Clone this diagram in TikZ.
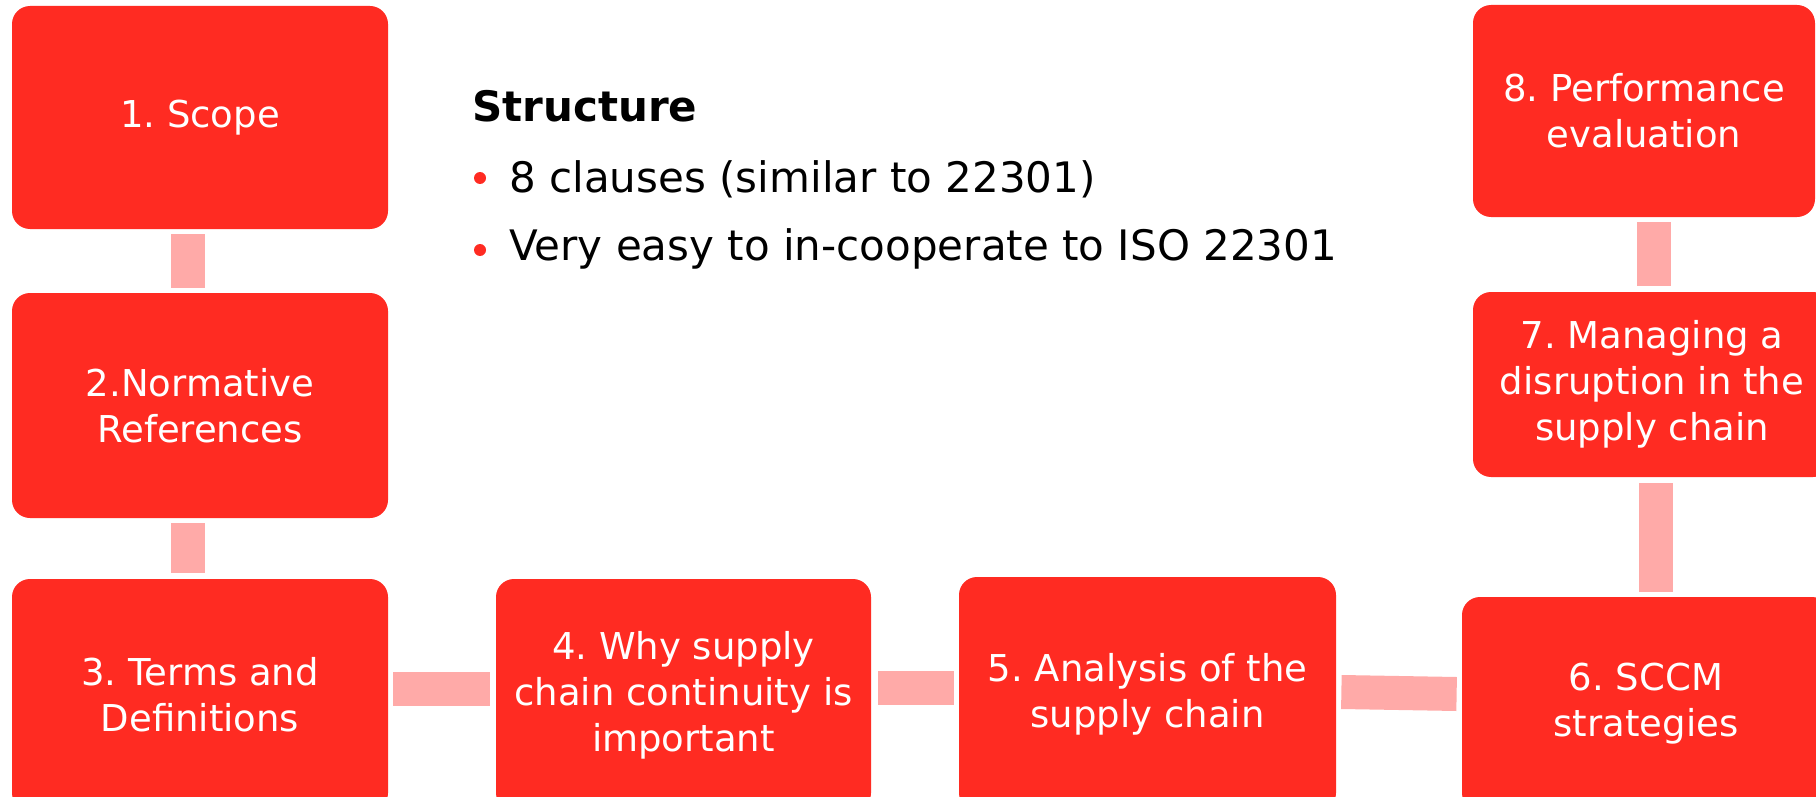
\documentclass[tikz,border=0pt]{standalone}
\usepackage{fontspec}
\setmainfont{DejaVu Sans}
\usetikzlibrary{calc}
\frenchspacing

\definecolor{clauseRed}{RGB}{255,43,34}
\definecolor{linkPink}{RGB}{255,170,168}

\tikzset{every picture/.style={line width=0.75pt}}
\tikzset{
  clause/.style={fill=clauseRed, draw=none, rounded corners=18pt, inner sep=0pt,
    text=white, align=center, font=\fontsize{37}{46}\selectfont},
  link/.style={draw=linkPink, line width=34pt},
  bulletdot/.style={circle, fill=clauseRed, draw=none, minimum size=12pt, inner sep=0pt},
  itemtext/.style={anchor=base west, inner sep=0pt, font=\fontsize{42}{50}\selectfont},
}

\begin{document}
\begin{tikzpicture}[x=1pt,y=1pt,yscale=-1,xscale=1]
\clip (0,0) rectangle (1816,797);

%Rounded Rect: clauses down the left side
\node[clause, minimum width=376pt, minimum height=223pt] (scope) at (200,117.5) {1. Scope};
\node[clause, minimum width=376pt, minimum height=225pt] (normref) at (200,405.5) {2.Normative\\References};
\node[clause, minimum width=376pt, minimum height=232pt] (terms) at (200,695) {3. Terms and\\Definitions};

%Rounded Rect: clauses along the bottom
\node[clause, minimum width=375pt, minimum height=232pt] (why) at (683.5,695) {4. Why supply\\chain continuity is\\important};
\node[clause, minimum width=377pt, minimum height=234pt] (analysis) at (1147.5,694) {5. Analysis of the\\supply chain};
\node[clause, minimum width=368pt, minimum height=214pt] (sccm) at (1646,704) {6. SCCM\\strategies};

%Rounded Rect: clauses up the right side
\node[clause, minimum width=358pt, minimum height=185pt] (managing) at (1652,384.5) {7. Managing a\\disruption in the\\supply chain};
\node[clause, minimum width=342pt, minimum height=212pt] (perf) at (1644,111) {8. Performance\\evaluation};

%Straight Lines: links between clauses
\draw[link] ($(scope.south)+(-12,5)$) -- ($(normref.north)+(-12,-5)$);
\draw[link] ($(normref.south)+(-12,5)$) -- ($(terms.north)+(-12,-6)$);
\draw[link] ($(terms.east)+(5,-6)$) -- ($(why.west)+(-6,-6)$);
\draw[link] ($(why.east)+(7,-7)$) -- ($(analysis.west)+(-5,-6)$);
\draw[link] ($(analysis.east)+(5,-2)$) -- ($(sccm.west)+(-5,-10)$);
\draw[link] ($(sccm.north)+(10,-5)$) -- ($(managing.south)+(4,6)$);
\draw[link] ($(managing.north)+(1.5,-6)$) -- ($(perf.south)+(9.5,5)$);

% Text Node
\node[itemtext, font=\fontsize{42}{50}\selectfont\bfseries] (title) at (472,122) {Structure};
% Text Node
\node[bulletdot] (dotA) at (480,178) {};
\node[itemtext] (itemA) at (509,193) {8 clauses (similar to 22301)};
% Text Node
\node[bulletdot] (dotB) at (480,250) {};
\node[itemtext] (itemB) at (509,260) {Very easy to in-cooperate to ISO 22301};

\end{tikzpicture}
\end{document}
